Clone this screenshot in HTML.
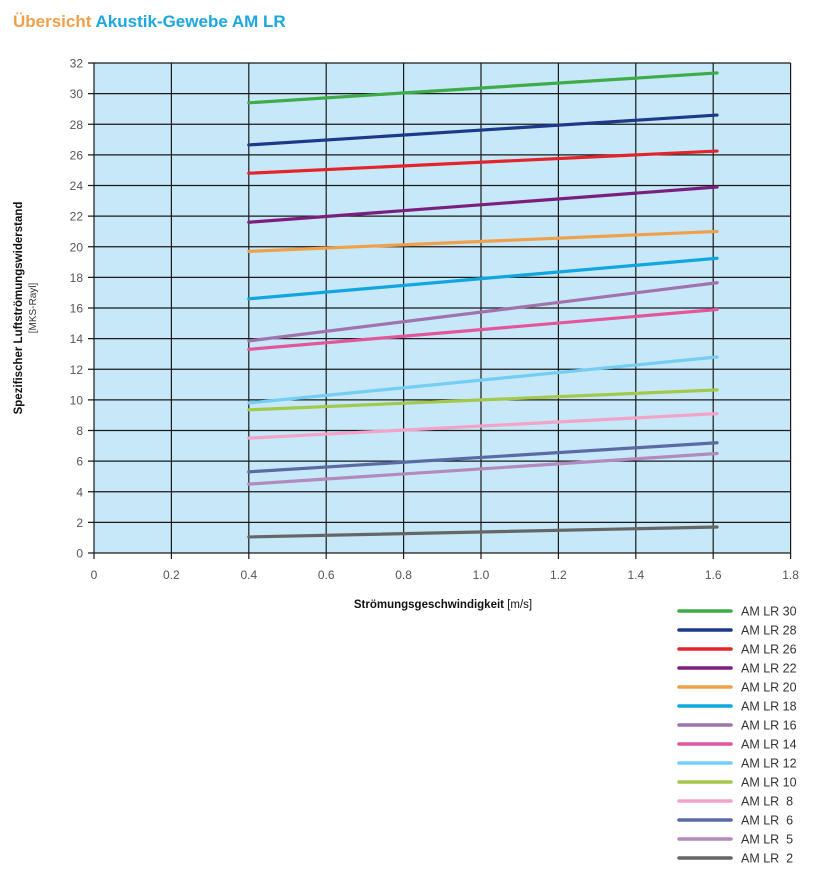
<!DOCTYPE html>
<html><head><meta charset="utf-8"><style>
body{margin:0;background:#fff;width:813px;height:886px;overflow:hidden;font-family:"Liberation Sans",sans-serif}
</style></head><body>
<svg width="813" height="886" xmlns="http://www.w3.org/2000/svg">
<text x="13" y="27" font-size="17" font-weight="bold"><tspan fill="#f0a04b">Übersicht </tspan><tspan fill="#1ba7e0">Akustik-Gewebe AM LR</tspan></text>
<g id="plot"></g>
<text transform="translate(22,308) rotate(-90)" text-anchor="middle" font-size="11.5" fill="#111"><tspan font-weight="bold">Spezifischer Luftströmungswiderstand</tspan></text>
<text transform="translate(36,308) rotate(-90)" text-anchor="middle" font-size="10" fill="#333">[MKS-Rayl]</text>
<text x="443" y="608" text-anchor="middle" font-size="11.5" fill="#111"><tspan font-weight="bold">Strömungsgeschwindigkeit</tspan> [m/s]</text>
<g id="legend"></g>
</svg>
<script>
const seriesNames=["AM LR 30","AM LR 28","AM LR 26","AM LR 22","AM LR 20","AM LR 18","AM LR 16","AM LR 14","AM LR 12","AM LR 10","AM LR  8","AM LR  6","AM LR  5","AM LR  2"];
const seriesColors=["#3fac4a","#1d3a8a","#e3242b","#7a1f7e","#f0a04b","#12a6e0","#a173ad","#e2579c","#74cdf2","#a3c84a","#f3a2c8","#5a6aa3","#b28abd","#666666"];
const xStart=[0.4,0.4,0.4,0.4,0.4,0.4,0.4,0.4,0.4,0.4,0.4,0.4,0.4,0.4];
const xEnd=[1.61,1.61,1.61,1.61,1.61,1.61,1.61,1.61,1.61,1.61,1.61,1.61,1.61,1.61];
const yStartVals=[29.4,26.65,24.8,21.6,19.7,16.6,13.85,13.3,9.8,9.35,7.5,5.3,4.5,1.05];
const yEndVals=[31.35,28.6,26.25,23.9,21.0,19.25,17.65,15.9,12.8,10.65,9.1,7.2,6.5,1.7];
const xTicks=[0,0.2,0.4,0.6,0.8,1.0,1.2,1.4,1.6,1.8];
const xTickLabels=["0","0.2","0.4","0.6","0.8","1.0","1.2","1.4","1.6","1.8"];
const yTicks=[0,2,4,6,8,10,12,14,16,18,20,22,24,26,28,30,32];
const NS="http://www.w3.org/2000/svg";
const X0=94,X1=790.6,Y0=553,Y1=63;
const sx=v=>X0+(X1-X0)*v/1.8, sy=v=>Y0-(Y0-Y1)*v/32;
function mk(t,a,p){const e=document.createElementNS(NS,t);for(const k in a)e.setAttribute(k,a[k]);p.appendChild(e);return e;}
const plot=document.getElementById('plot');
const bg=mk('rect',{x:X0,y:Y1,width:X1-X0,height:Y0-Y1,fill:'#c6e8f8'},plot);


yTicks.forEach(v=>{const l=mk('line',{x1:X0-6,x2:X1,y1:sy(v),y2:sy(v),stroke:'#1a1a1a','stroke-width':1.2},plot);


const t=mk('text',{x:X0-11,y:sy(v)+4.5,'text-anchor':'end','font-size':12,fill:'#555'},plot);t.textContent=v;

});
xTicks.forEach((v,i)=>{const l=mk('line',{x1:sx(v),x2:sx(v),y1:Y1,y2:Y0+6,stroke:'#1a1a1a','stroke-width':1.2},plot);


const t=mk('text',{x:sx(v),y:Y0+26,'text-anchor':'middle','font-size':12,fill:'#555'},plot);t.textContent=xTickLabels[i];

});
const leg=document.getElementById('legend');
seriesNames.forEach((n,i)=>{
const l=mk('line',{x1:sx(xStart[i]),y1:sy(yStartVals[i]),x2:sx(xEnd[i]),y2:sy(yEndVals[i]),stroke:seriesColors[i],'stroke-width':3.2,'stroke-linecap':'round'},plot);


const y=611+i*19;
const g=mk('g',{},leg);


mk('line',{x1:679,x2:731,y1:y,y2:y,stroke:seriesColors[i],'stroke-width':3.5,'stroke-linecap':'round'},g);
const t=mk('text',{x:741,y:y+4.5,'font-size':12.5,fill:'#333','xml:space':'preserve'},g);t.textContent=n;t.style.whiteSpace='pre';
});
</script>
</body></html>
